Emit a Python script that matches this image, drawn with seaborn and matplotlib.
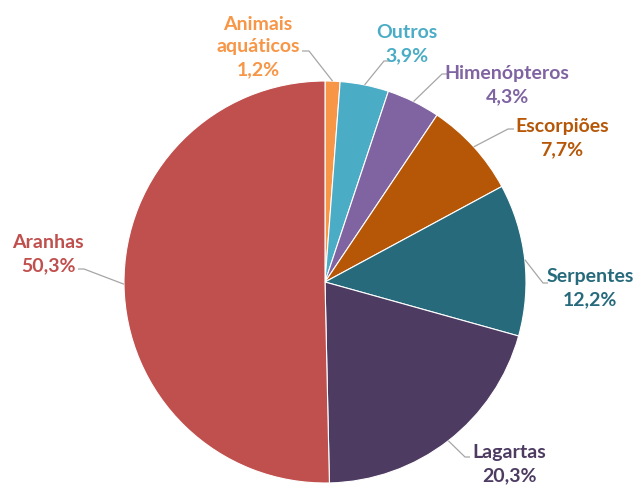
import numpy as np
import matplotlib
matplotlib.use("Agg")
import matplotlib.pyplot as plt
import seaborn as sns

# slices, clockwise from 12 o'clock
categories = ["Animais\naquáticos", "Outros", "Himenópteros", "Escorpiões",
              "Serpentes", "Lagartas", "Aranhas"]
values = [1.2, 3.9, 4.3, 7.7, 12.2, 20.3, 50.3]
colors = ["#F79646", "#4BACC6", "#8064A2", "#B65708",
          "#276A7C", "#4D3B62", "#C0504D"]

sns.set_theme(style="white")
plt.rcParams["font.family"] = ["Lato", "DejaVu Sans"]

fig = plt.figure(figsize=(6.4, 4.89), dpi=100)
ax = fig.add_axes([0, 0, 1, 1])

H = 489
cx, cy, r = 325, H - 283, 201

ax.pie(values, colors=colors, startangle=90, counterclock=False,
       center=(cx, cy), radius=r,
       wedgeprops=dict(edgecolor="white", linewidth=0.8))

# label layout: text centre, elbow, line end (pixel coords, y from top)
layout = [
    ((258, 47), (302, 52), (309, 52)),
    ((407, 44), (384, 62), (390, 62)),
    ((507, 85), (442, 75), (448, 75)),
    ((562, 138), (508, 130), (514, 130)),
    ((590, 288), (548, 284), (543, 284)),
    ((509, 464), (470, 458), (465, 458)),
    ((48, 254), (78, 270), (84, 270)),
]

total = sum(values)
cum = 0
for cat, v, col, (tpos, p1, p2) in zip(categories, values, colors, layout):
    mid = np.deg2rad(360 * (cum + v / 2) / total)
    cum += v
    ax_x = cx + r * np.sin(mid)
    ax_y = cy + r * np.cos(mid)
    # elbow nearest the pie connects to the slice edge
    ex, ey = (p2 if abs(p2[0] - ax_x) < abs(p1[0] - ax_x) else p1)
    fx, fy = (p1 if (ex, ey) == p2 else p2)
    ax.plot([ax_x, ex, fx], [ax_y, H - ey, H - fy], color="#A6A6A6", lw=0.9,
            solid_capstyle="butt")
    pct = f"{v:.1f}%".replace(".", ",")
    ax.text(tpos[0], H - tpos[1], f"{cat}\n{pct}", color=col, ha="center",
            va="center", fontsize=14, fontweight="bold", linespacing=1.4)

ax.set_xlim(0, 640)
ax.set_ylim(0, H)
ax.set_aspect("equal")
ax.axis("off")

fig.savefig("out.png", dpi=100)
